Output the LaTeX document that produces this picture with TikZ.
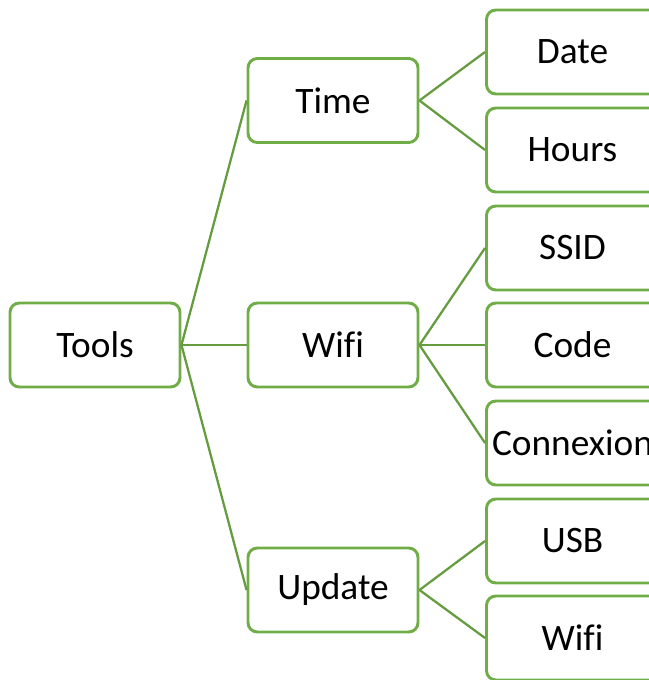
\documentclass[tikz,border=0pt]{standalone}
\usepackage{fontspec}
\setmainfont[Ligatures=NoCommon]{Carlito}
\usepackage{tikz}
\usetikzlibrary{positioning}
\definecolor{leafgreen}{RGB}{112,173,71}

\begin{document}
\begin{tikzpicture}[x=0.75pt, y=-0.75pt,
    box/.style={draw=leafgreen, line width=2.2pt, rounded corners=7pt,
      minimum width=127.5pt, minimum height=63pt, inner xsep=0pt,
      font=\fontsize{28}{32}\selectfont},
    branch/.style={draw=leafgreen!90!black, line width=1.7pt}]
    \useasboundingbox (0,0) rectangle (648,680);
    % root and middle level
    \node[box] (tools) at (95,345) {Tools};
    \node[box] (time) at (333,100.5) {Time};
    \node[box] (wifi) at (333,345) {Wifi};
    \node[box] (update) at (333,590) {Update};
    % leaves
    \node[box, minimum width=129pt] (date) at (572.5,52) {Date};
    \node[box, minimum width=129pt] (hours) at (572.5,150) {Hours};
    \node[box, minimum width=129pt] (ssid) at (572.5,248) {SSID};
    \node[box, minimum width=129pt] (code) at (572.5,345) {Code};
    \node[box, minimum width=129pt] (connexion) at (572.5,443) {Connexion};
    \node[box, minimum width=129pt] (usb) at (572.5,541) {USB};
    \node[box, minimum width=129pt] (wifibis) at (572.5,638) {Wifi};
    % connectors
    \foreach \n in {time, wifi, update}{
      \draw[branch] (tools.east) -- (\n.west);
    }
    \foreach \n in {date, hours}{
      \draw[branch] (time.east) -- (\n.west);
    }
    \foreach \n in {ssid, code, connexion}{
      \draw[branch] (wifi.east) -- (\n.west);
    }
    \foreach \n in {usb, wifibis}{
      \draw[branch] (update.east) -- (\n.west);
    }
\end{tikzpicture}
\end{document}
